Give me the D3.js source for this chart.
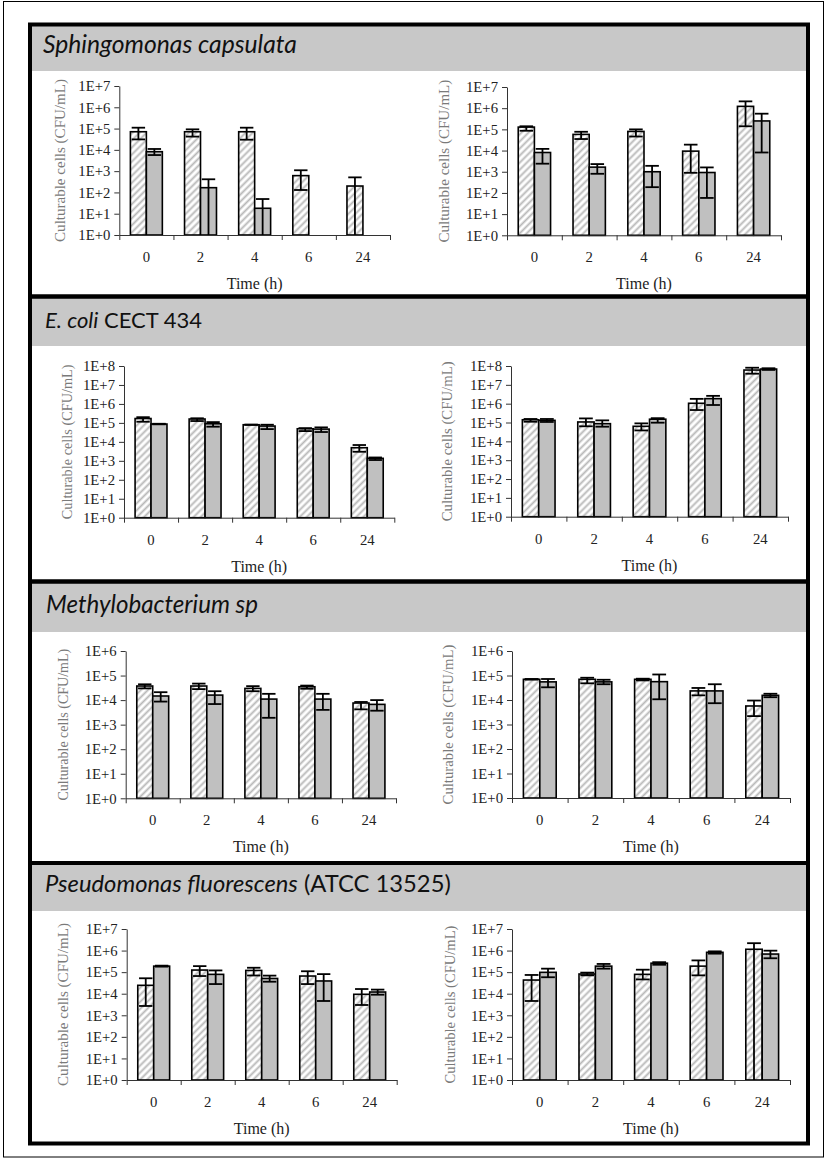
<!DOCTYPE html>
<html><head><meta charset="utf-8">
<script src="https://cdn.jsdelivr.net/npm/d3@7"></script>
<style>body{margin:0;background:#fff} svg{display:block}</style>
</head><body>
<svg id="c" width="833" height="1159"></svg>
<script>
// ---------- data ----------
const timeLabels = ["0", "2", "4", "6", "24"];
const yLabels6 = ["1E+0","1E+1","1E+2","1E+3","1E+4","1E+5","1E+6"];
const yLabels7 = ["1E+0","1E+1","1E+2","1E+3","1E+4","1E+5","1E+6","1E+7"];
const yLabels8 = ["1E+0","1E+1","1E+2","1E+3","1E+4","1E+5","1E+6","1E+7","1E+8"];
const panelTitles = [
  [["Sphingomonas capsulata", true]],
  [["E. coli", true], [" CECT 434", false]],
  [["Methylobacterium sp", true]],
  [["Pseudomonas fluorescens", true], [" (ATCC 13525)", false]]
];
const yTitle = "Culturable cells (CFU/mL)";
const xTitle = "Time (h)";

// Sphingomonas capsulata
const sphL_hatch   = [7.1e4, 7.1e4, 7.1e4, 615, 200];
const sphL_hatchLo = [3.1e4, 4.2e4, 3.0e4, 130, 1];
const sphL_hatchHi = [1.1e5, 9.2e4, 1.1e5, 1.1e3, 510];
const sphL_gray    = [8.2e3, 167, 18, null, null];
const sphL_grayLo  = [5.7e3, 1, 1, null, null];
const sphL_grayHi  = [1.1e4, 415, 49, null, null];
const sphR_hatch   = [1.28e5, 5.8e4, 8e4, 9.4e3, 1.22e6];
const sphR_hatchLo = [8.6e4, 3.5e4, 4.6e4, 890, 1.4e5];
const sphR_hatchHi = [1.4e5, 7.7e4, 1e5, 1.9e4, 2.1e6];
const sphR_gray    = [8.1e3, 1.65e3, 1e3, 920, 2.5e5];
const sphR_grayLo  = [2.4e3, 800, 187, 58, 8.1e3];
const sphR_grayHi  = [1.2e4, 2.3e3, 1.9e3, 1.6e3, 5.5e5];
// E. coli CECT 434
const ecoL_hatch   = [1.7e5, 1.6e5, 8e4, 4.9e4, 4.9e3];
const ecoL_hatchLo = [1.15e5, 1.25e5, 8e4, 3.7e4, 3e3];
const ecoL_hatchHi = [2.0e5, 1.75e5, 8e4, 5.3e4, 6.8e3];
const ecoL_gray    = [8.7e4, 9e4, 6.8e4, 4.7e4, 1.35e3];
const ecoL_grayLo  = [8.4e4, 6.3e4, 4.7e4, 3.3e4, 1.1e3];
const ecoL_grayHi  = [9e4, 1.1e5, 8e4, 5.8e4, 1.5e3];
const ecoR_hatch   = [1.4e5, 1.07e5, 6.3e4, 1.05e6, 6.1e7];
const ecoR_hatchLo = [1.1e5, 6.3e4, 3.8e4, 4.6e5, 3.9e7];
const ecoR_hatchHi = [1.54e5, 1.65e5, 9e4, 1.8e6, 8.1e7];
const ecoR_gray    = [1.3e5, 8.7e4, 1.5e5, 1.85e6, 6.9e7];
const ecoR_grayLo  = [1.07e5, 6e4, 9.8e4, 8.5e5, 6.2e7];
const ecoR_grayHi  = [1.54e5, 1.3e5, 1.7e5, 2.6e6, 7.6e7];
// Methylobacterium sp
const metL_hatch   = [3.75e4, 3.75e4, 3e4, 3.5e4, 7.6e3];
const metL_hatchLo = [3e4, 2.8e4, 2.3e4, 2.9e4, 4.2e3];
const metL_hatchHi = [4.4e4, 4.7e4, 3.7e4, 3.9e4, 8.4e3];
const metL_gray    = [1.47e4, 1.6e4, 1.1e4, 1.1e4, 6.7e3];
const metL_grayLo  = [8.7e3, 6.9e3, 1.9e3, 4e3, 3.7e3];
const metL_grayHi  = [2.1e4, 2.3e4, 1.8e4, 1.8e4, 1e4];
const metR_hatch   = [7e4, 7e4, 7e4, 2.35e4, 5.7e3];
const metR_hatchLo = [6.8e4, 4.8e4, 6.3e4, 1.55e4, 2.2e3];
const metR_hatchHi = [7.2e4, 8.1e4, 7.4e4, 3.1e4, 9.5e3];
const metR_gray    = [5.5e4, 5.5e4, 5.6e4, 2.35e4, 1.55e4];
const metR_grayLo  = [3.3e4, 4.4e4, 1.07e4, 7.4e3, 1.3e4];
const metR_grayHi  = [7.2e4, 6.7e4, 1.1e5, 4.4e4, 1.8e4];
// Pseudomonas fluorescens
const psfL_hatch   = [2.45e4, 1.25e5, 1.2e5, 6.6e4, 9.4e3];
const psfL_hatchLo = [2.7e3, 6.6e4, 7e4, 2.8e4, 3e3];
const psfL_hatchHi = [5.2e4, 1.9e5, 1.6e5, 1.1e5, 1.65e4];
const psfL_gray    = [1.9e5, 7.9e4, 5.1e4, 3.9e4, 1.2e4];
const psfL_grayLo  = [1.8e5, 2.8e4, 3.6e4, 4.6e3, 9e3];
const psfL_grayHi  = [2e5, 1.2e5, 6.9e4, 8.1e4, 1.55e4];
const psfR_hatch   = [4.3e4, 8.2e4, 7.9e4, 1.9e5, 1.15e6];
const psfR_hatchLo = [4.6e3, 7.1e4, 4.6e4, 7.1e4, 1];
const psfR_hatchHi = [7.4e4, 9.5e4, 1.3e5, 3.5e5, 2.2e6];
const psfR_gray    = [9.8e4, 1.9e5, 2.6e5, 8.3e5, 6.9e5];
const psfR_grayLo  = [5.8e4, 1.45e5, 2.2e5, 7.2e5, 4.4e5];
const psfR_grayHi  = [1.45e5, 2.4e5, 2.9e5, 9.2e5, 9.9e5];

// ---------- layout ----------
const panels = [
  {top: 24.5, bottom: 296.5, header: 71, baseline: 53, tx: 43, tw: 254},
  {top: 296.5, bottom: 581.5, header: 346, baseline: 328, tx: 45, tw: 157},
  {top: 581.5, bottom: 863, header: 632, baseline: 613, tx: 46, tw: 212},
  {top: 863, bottom: 1143.5, header: 911, baseline: 892, tx: 45, tw: 406}
];
const charts = [
  {x0:119.3, x1:390, yTop:86, yBot:235, labels:yLabels7, tOff:58, tw:163, h:sphL_hatch, hl:sphL_hatchLo, hh:sphL_hatchHi, g:sphL_gray, gl:sphL_grayLo, gh:sphL_grayHi},
  {x0:507, x1:781, yTop:87, yBot:235.3, labels:yLabels7, tOff:61, tw:163, h:sphR_hatch, hl:sphR_hatchLo, hh:sphR_hatchHi, g:sphR_gray, gl:sphR_grayLo, gh:sphR_grayHi},
  {x0:124, x1:394.3, yTop:366, yBot:517.7, labels:yLabels8, tOff:55, tw:155, h:ecoL_hatch, hl:ecoL_hatchLo, hh:ecoL_hatchHi, g:ecoL_gray, gl:ecoL_grayLo, gh:ecoL_grayHi},
  {x0:511, x1:788, yTop:366, yBot:516.7, labels:yLabels8, tOff:62, tw:160, h:ecoR_hatch, hl:ecoR_hatchLo, hh:ecoR_hatchHi, g:ecoR_gray, gl:ecoR_grayLo, gh:ecoR_grayHi},
  {x0:125.7, x1:396, yTop:651, yBot:798.3, labels:yLabels6, tOff:61, tw:152, h:metL_hatch, hl:metL_hatchLo, hh:metL_hatchHi, g:metL_gray, gl:metL_grayLo, gh:metL_grayHi},
  {x0:512, x1:790, yTop:651, yBot:798, labels:yLabels6, tOff:62, tw:160, h:metR_hatch, hl:metR_hatchLo, hh:metR_hatchHi, g:metR_gray, gl:metR_grayLo, gh:metR_grayHi},
  {x0:126.7, x1:396.7, yTop:929, yBot:1080, labels:yLabels7, tOff:62, tw:163, h:psfL_hatch, hl:psfL_hatchLo, hh:psfL_hatchHi, g:psfL_gray, gl:psfL_grayLo, gh:psfL_grayHi},
  {x0:512, x1:790, yTop:929, yBot:1080, labels:yLabels7, tOff:60, tw:158, h:psfR_hatch, hl:psfR_hatchLo, hh:psfR_hatchHi, g:psfR_gray, gl:psfR_grayLo, gh:psfR_grayHi}
];

const svg = d3.select("#c");
const serif = "'Liberation Serif', 'Times New Roman', serif";

// font fitting helper: size so that a probe string has the target width
function fitSize(str, target, family, base) {
  const t = svg.append("text").attr("font-family", family).attr("font-size", base).text(str);
  const w = t.node().getComputedTextLength();
  t.remove();
  return base * target / w;
}
const tickFs = fitSize("1E+7", 32, serif, 14);
const xTitleFs = fitSize(xTitle, 56, serif, 15);

const defs = svg.append("defs");
const pat = defs.append("pattern").attr("id","hatch").attr("patternUnits","userSpaceOnUse")
  .attr("width",5).attr("height",5).attr("patternTransform","rotate(45)");
pat.append("rect").attr("width",5).attr("height",5).attr("fill","#fff");
pat.append("line").attr("x1",2.5).attr("y1",-1).attr("x2",2.5).attr("y2",6)
  .attr("stroke","#b8b8b8").attr("stroke-width",1.9);

// outer frame
svg.append("rect").attr("x",3.5).attr("y",1.5).attr("width",820).attr("height",1155.5)
  .attr("fill","none").attr("stroke","#000").attr("stroke-width",1);

const boxL = 30, boxR = 808;
panels.forEach((p, i) => {
  svg.append("rect").attr("x",boxL).attr("y",p.top).attr("width",boxR-boxL).attr("height",p.header-p.top)
    .attr("fill","#c8c8c8");
  const t = svg.append("text").attr("x",p.tx).attr("y",p.baseline)
    .attr("font-family","Lato, 'Open Sans', sans-serif").attr("font-size",20).attr("fill","#111");
  panelTitles[i].forEach(([s, it]) => {
    t.append("tspan").text(s).attr("font-style", it ? "italic" : "normal");
  });
  const w = t.node().getComputedTextLength();
  t.attr("font-size", 20 * p.tw / w);
});
panels.forEach(p => {
  svg.append("rect").attr("x",boxL).attr("y",p.top).attr("width",boxR-boxL).attr("height",p.bottom-p.top)
    .attr("fill","none").attr("stroke","#000").attr("stroke-width",4);
});

charts.forEach(c => {
  const g = svg.append("g");
  const maxExp = c.labels.length - 1;
  const y = d3.scaleLog().domain([1, Math.pow(10, maxExp)]).range([c.yBot, c.yTop]);
  const x = d3.scaleBand().domain(timeLabels).range([c.x0, c.x1]).padding(0);
  const xi = d3.scaleLinear().domain([0, timeLabels.length]).range([c.x0, c.x1]);
  const bw = x.bandwidth() * 0.295;

  // bars
  const rows = timeLabels.map((t, i) => ({t, h:c.h[i], hl:c.hl[i], hh:c.hh[i], g:c.g[i], gl:c.gl[i], gh:c.gh[i]}));
  const cx = d => x(d.t) + x.bandwidth()/2;
  g.selectAll(".hb").data(rows.filter(d => d.h)).join("rect")
    .attr("x", d => cx(d) - bw).attr("width", bw)
    .attr("y", d => y(d.h)).attr("height", d => c.yBot - y(d.h))
    .attr("fill","url(#hatch)").attr("stroke","#000").attr("stroke-width",1.6);
  g.selectAll(".gb").data(rows.filter(d => d.g)).join("rect")
    .attr("x", d => cx(d)).attr("width", bw)
    .attr("y", d => y(d.g)).attr("height", d => c.yBot - y(d.g))
    .attr("fill","#c0c0c0").attr("stroke","#000").attr("stroke-width",1.6);

  // error bars
  const cap = bw * 0.42;
  const errs = [];
  rows.forEach(d => {
    if (d.h) errs.push({x: cx(d) - bw/2, lo: d.hl, hi: d.hh});
    if (d.g) errs.push({x: cx(d) + bw/2, lo: d.gl, hi: d.gh});
  });
  const eg = g.append("g").attr("stroke","#000").attr("stroke-width",1.8);
  errs.forEach(e => {
    eg.append("line").attr("x1",e.x).attr("x2",e.x).attr("y1",y(e.lo)).attr("y2",y(e.hi));
    eg.append("line").attr("x1",e.x-cap).attr("x2",e.x+cap).attr("y1",y(e.hi)).attr("y2",y(e.hi));
    if (e.lo > 1) eg.append("line").attr("x1",e.x-cap).attr("x2",e.x+cap).attr("y1",y(e.lo)).attr("y2",y(e.lo));
  });

  // y axis
  const decades = d3.range(0, maxExp + 1).map(k => Math.pow(10, k));
  const ya = g.append("g").attr("transform",`translate(${c.x0},0)`)
    .call(d3.axisLeft(y).tickValues(decades).tickFormat((d, i) => c.labels[i]).tickSize(5).tickSizeOuter(0));
  ya.select(".domain").attr("stroke","#333");
  ya.selectAll(".tick line").attr("stroke","#333");
  ya.selectAll("text").attr("font-family",serif).attr("font-size",tickFs).attr("fill","#222").attr("x",-9);

  // x axis
  const xa = g.append("g").attr("transform",`translate(0,${c.yBot})`)
    .call(d3.axisBottom(xi).tickValues(d3.range(0, timeLabels.length + 1)).tickFormat("").tickSize(5).tickSizeOuter(0));
  xa.select(".domain").attr("stroke","#333");
  xa.selectAll(".tick line").attr("stroke","#333");
  g.selectAll(".xl").data(timeLabels).join("text")
    .attr("x", d => x(d) + x.bandwidth()/2).attr("y", c.yBot + 27)
    .attr("text-anchor","middle").attr("font-family",serif).attr("font-size",tickFs).attr("fill","#222")
    .text(d => d);

  g.append("text").attr("x",(c.x0+c.x1)/2).attr("y",c.yBot+54).attr("text-anchor","middle")
    .attr("font-family",serif).attr("font-size",xTitleFs).attr("fill","#222").text(xTitle);
  const yt = g.append("text").attr("transform",`translate(${c.x0 - c.tOff},${(c.yTop+c.yBot)/2}) rotate(-90)`)
    .attr("text-anchor","middle").attr("dominant-baseline","middle")
    .attr("font-family",serif).attr("font-size",15).attr("fill","#7a7a7a").text(yTitle);
  const yw = yt.node().getComputedTextLength();
  yt.attr("font-size", 15 * c.tw / yw);
});
</script>
</body></html>
